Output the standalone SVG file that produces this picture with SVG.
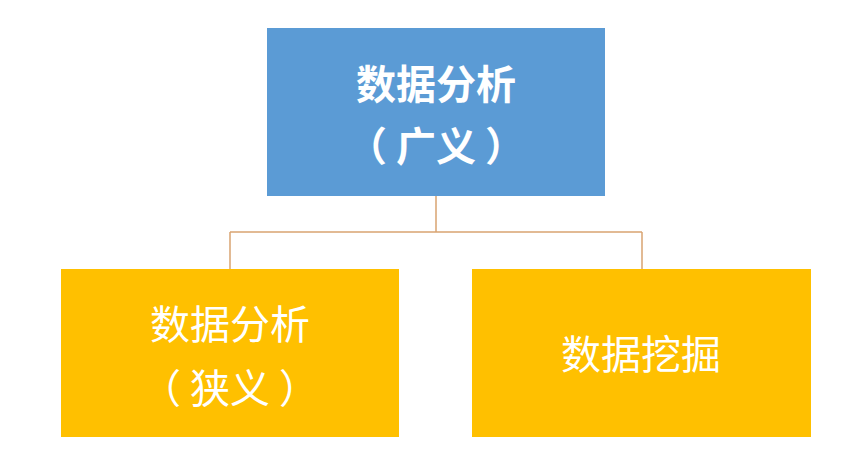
<svg xmlns="http://www.w3.org/2000/svg" width="865" height="472" viewBox="0 0 865 472">
<style>
.t{font-family:"Noto Sans CJK SC","Noto Sans",sans-serif;font-size:40px;fill:#fff;text-anchor:middle}
.b{font-weight:bold}
.c{fill:none;stroke:#D9A471;stroke-width:1.5}
</style>
<rect width="865" height="472" fill="#fff"/>
<g id="connectors">
<path class="c" d="M436 196V232M230 232H642M230 232V269M642 232V269"/>
</g>
<g id="root">
<rect x="267" y="28" width="338" height="168" fill="#5B9BD5"/>
<text class="t b" x="436" y="99">数据分析</text>
<text class="t b" x="436" y="161">（ 广义 ）</text>
</g>
<g id="narrow">
<rect x="61" y="269" width="338" height="168" fill="#FFC000"/>
<text class="t" x="230" y="339">数据分析</text>
<text class="t" x="230" y="403">（ 狭义 ）</text>
</g>
<g id="mining">
<rect x="472" y="269" width="339" height="168" fill="#FFC000"/>
<text class="t" x="641" y="369">数据挖掘</text>
</g>
</svg>
